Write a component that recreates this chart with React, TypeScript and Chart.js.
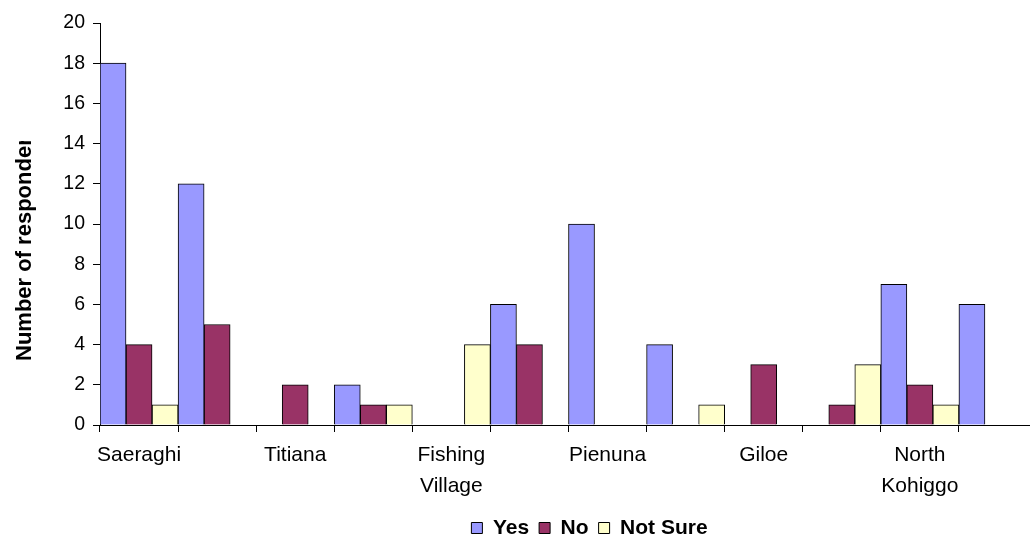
import React, { useEffect, useRef } from "react";
import { Chart, registerables } from "chart.js";

Chart.register(...registerables);

// Survey answers per site; the village names sit under every second column group.
const villages: (string | string[])[] = [
  "Saeraghi",
  "",
  "Titiana",
  "",
  ["Fishing", "Village"],
  "",
  "Pienuna",
  "",
  "Giloe",
  "",
  ["North", "Kohiggo"],
  "",
];
const yesCounts = [18, 12, 0, 2, 0, 6, 10, 4, 0, 0, 7, 6];
const noCounts = [4, 5, 2, 1, 0, 4, 0, 0, 3, 1, 2, 0];
const notSureCounts = [1, 0, 0, 1, 4, 0, 0, 1, 0, 3, 1, 0];
const seriesNames = ["Yes", "No", "Not Sure"];
const seriesColors = ["#9999FF", "#993366", "#FFFFCC"];
const yAxisMax = 20;
const yAxisStep = 2;
const yAxisTitle = "Number of respondents";

const FONT = "'Liberation Sans', Arial, sans-serif";
const CANVAS_W = 1040;
const CANVAS_H = 538;

// Rotated axis title, clipped to a box the way the spreadsheet shows it.
const clippedTitlePlugin = {
  id: "clippedTitle",
  afterDraw(chart: any) {
    const { ctx, chartArea } = chart;
    const clipTop = chartArea.top + 118;
    ctx.save();
    ctx.beginPath();
    ctx.rect(0, clipTop, chartArea.left - 40, chartArea.bottom - clipTop);
    ctx.clip();
    ctx.translate(31, chartArea.bottom - 64);
    ctx.rotate(-Math.PI / 2);
    ctx.font = `bold 22px ${FONT}`;
    ctx.fillStyle = "#000";
    ctx.textAlign = "left";
    ctx.textBaseline = "alphabetic";
    ctx.fillText(yAxisTitle, 0, 0);
    ctx.restore();
  },
};

// Places the legend row under the plot, slightly right of centre.
const legendPlacePlugin = {
  id: "legendPlace",
  afterLayout(chart: any) {
    const lg = chart.legend;
    if (!lg) return;
    const area = chart.chartArea;
    const dx = (area.left + area.right) / 2 + 21 - (lg.left + lg.right) / 2;
    lg.left += dx;
    lg.right += dx;
    const pad = lg.options.labels.padding;
    const h = lg.height;
    lg.top = 528 - 10.5 - pad;
    lg.bottom = lg.top + h;
  },
};

export default function App() {
  const canvasRef = useRef<HTMLCanvasElement | null>(null);

  useEffect(() => {
    if (!canvasRef.current) return;
    const datasets = [yesCounts, noCounts, notSureCounts].map((data, i) => ({
      label: seriesNames[i],
      data,
      backgroundColor: seriesColors[i],
      borderColor: "#000",
      borderWidth: 1,
      categoryPercentage: 1,
      barPercentage: 1,
    }));

    const chart = new Chart(canvasRef.current, {
      type: "bar",
      data: { labels: villages as any, datasets },
      options: {
        animation: false,
        responsive: false,
        devicePixelRatio: 1,
        layout: { padding: { left: 0, right: 3, top: 23, bottom: 0 } },
        plugins: {
          tooltip: { enabled: false },
          title: { display: false },
          legend: {
            position: "bottom",
            labels: {
              boxWidth: 11,
              boxHeight: 11,
              padding: 10,
              color: "#000",
              font: { family: FONT, size: 21, weight: "bold" },
            },
          },
        },
        scales: {
          x: {
            grid: {
              display: true,
              drawOnChartArea: false,
              drawTicks: true,
              tickLength: 7,
              color: "#000",
              offset: true,
            },
            border: { display: true, color: "#000", width: 1 },
            ticks: {
              autoSkip: false,
              maxRotation: 0,
              minRotation: 0,
              padding: 8,
              color: "#000",
              font: { family: FONT, size: 21, lineHeight: 1.48 },
            },
            afterFit: (scale: any) => {
              const lh = scale.chart.legend ? scale.chart.legend.height : 0;
              scale.height = CANVAS_H - 425 - lh;
            },
          },
          y: {
            min: 0,
            max: yAxisMax,
            grid: {
              display: true,
              drawOnChartArea: false,
              drawTicks: true,
              tickLength: 7,
              color: "#000",
            },
            border: { display: true, color: "#000", width: 1 },
            ticks: {
              stepSize: yAxisStep,
              padding: 8,
              color: "#000",
              font: { family: FONT, size: 19.5 },
            },
            afterFit: (scale: any) => {
              scale.width = 100;
            },
          },
        },
      },
      plugins: [clippedTitlePlugin, legendPlacePlugin],
    });
    return () => chart.destroy();
  }, []);

  return (
    <div
      style={{
        position: "fixed",
        left: 0,
        top: 0,
        width: 1030,
        height: 538,
        overflow: "hidden",
        background: "#fff",
      }}
    >
      <canvas
        ref={canvasRef}
        width={CANVAS_W}
        height={CANVAS_H}
        style={{ display: "block", width: CANVAS_W, height: CANVAS_H }}
      />
    </div>
  );
}
